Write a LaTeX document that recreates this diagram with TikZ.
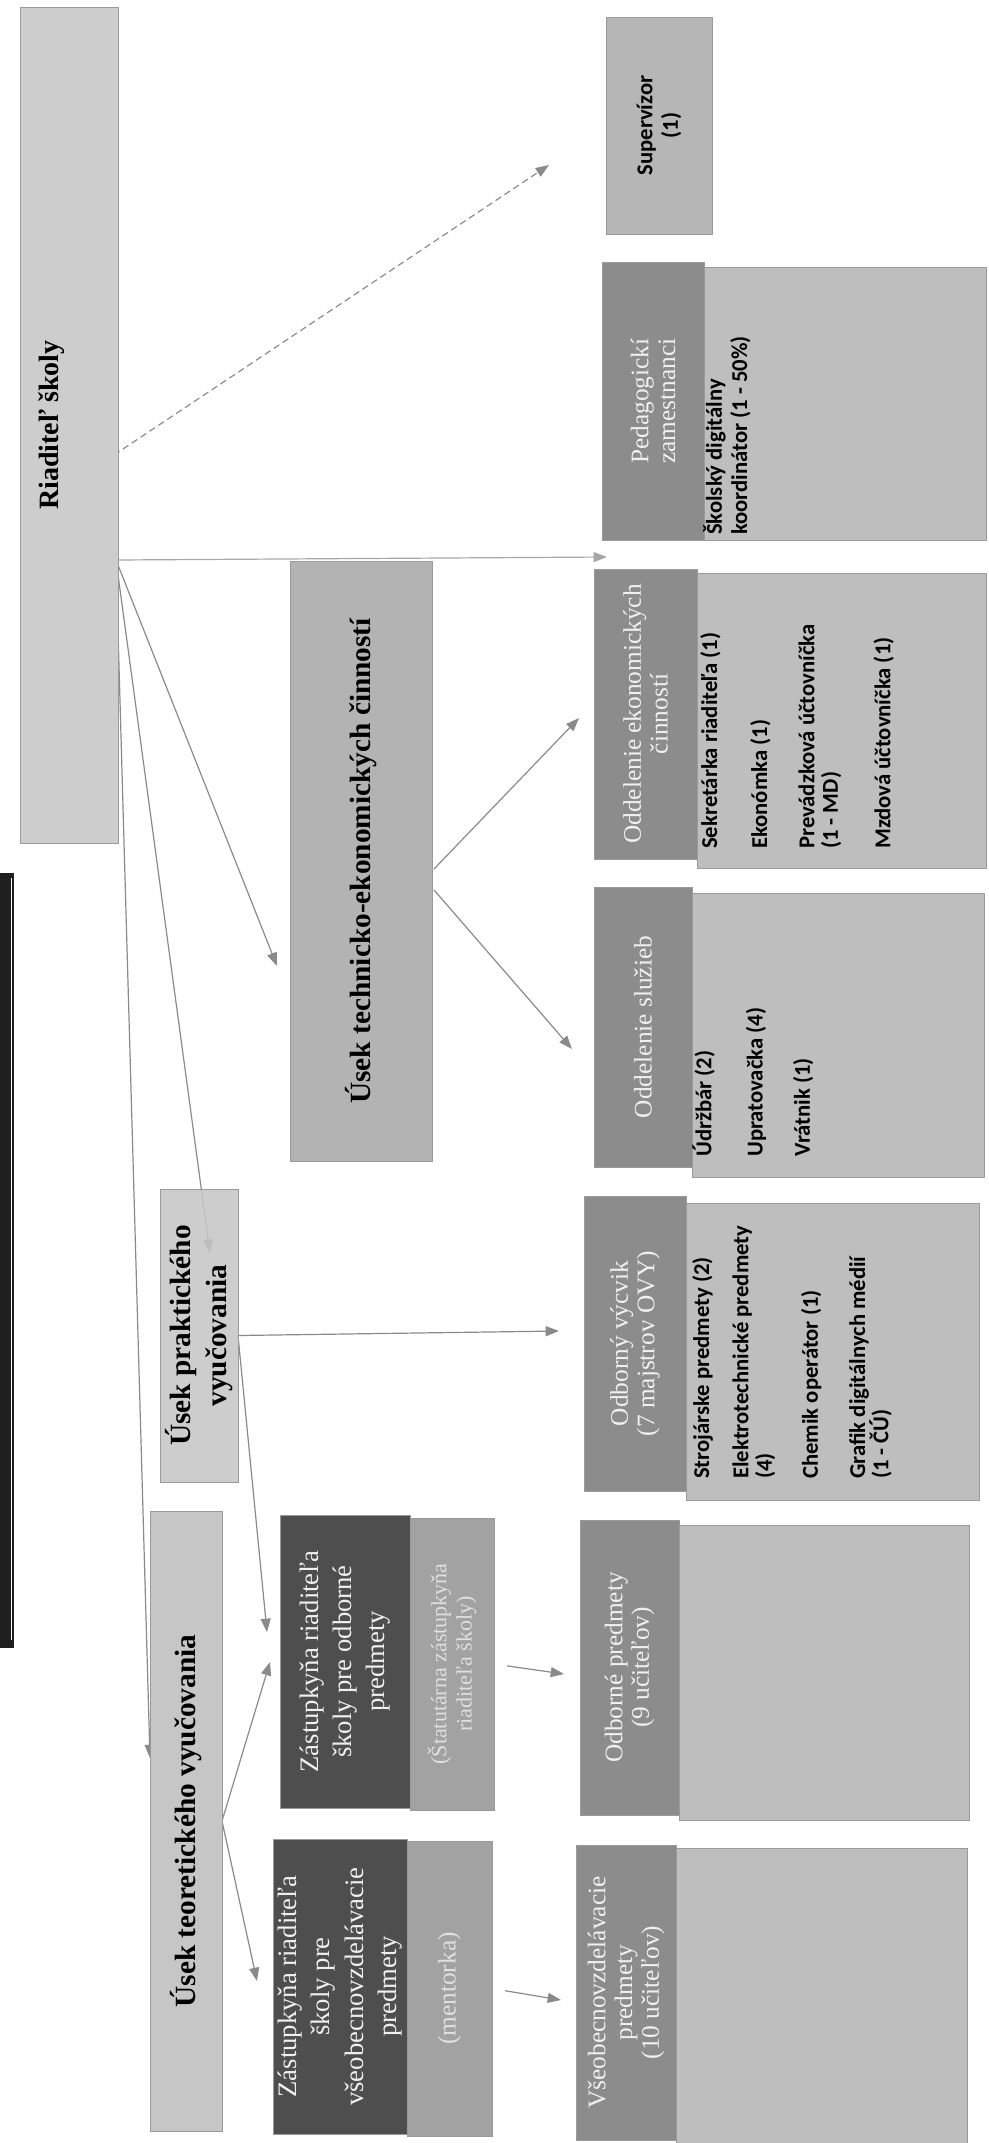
\documentclass[tikz,border=0pt]{standalone}
\usepackage{fontspec}
\setmainfont{Liberation Serif}
\newfontfamily\itemfont{Carlito}
\usetikzlibrary{arrows.meta,backgrounds}

\definecolor{riadFill}{HTML}{CDCDCD}
\definecolor{supFill}{HTML}{B6B6B6}
\definecolor{hdrFill}{HTML}{8C8C8C}
\definecolor{bodyFill}{HTML}{BEBEBE}
\definecolor{usekFill}{HTML}{B3B3B3}
\definecolor{usekLight}{HTML}{C6C6C6}
\definecolor{zastDark}{HTML}{4E4E4E}
\definecolor{zastLight}{HTML}{A2A2A2}
\definecolor{edgeGray}{HTML}{9A9A9A}
\definecolor{lineGray}{HTML}{8A8A8A}

\tikzset{
  box/.style={draw=edgeGray, line width=0.6pt, anchor=north west, inner sep=0pt, outer sep=0pt},
  sz/.style 2 args={minimum width=#1*0.75pt, minimum height=#2*0.75pt},
  title/.style={rotate=90, align=center, font=\bfseries\fontsize{22}{27}\selectfont},
  hdrtext/.style={rotate=90, align=center, text=white!94!black, font=\fontsize{19}{20}\selectfont},
  zasttext/.style={rotate=90, align=center, text=white!94!black, font=\fontsize{20}{25}\selectfont},
  items/.style={rotate=90, align=left, anchor=north west, inner sep=0pt, font=\itemfont\bfseries\fontsize{17}{17.5}\selectfont},
  conn/.style={draw=lineGray, line width=0.9pt, -{Triangle[length=10pt,width=7.5pt]}},
}

\begin{document}
\begin{tikzpicture}[x=0.75pt,y=0.75pt,yscale=-1,xscale=1]
\useasboundingbox (0,0) rectangle (989,2143);

%Shape: scan edge
\fill[black!88] (0,873) rectangle (14,1648);
\draw[white, line width=0.6pt] (11.5,878) -- (11.5,1640);

%Riaditel skoly
\node[box, fill=riadFill, sz={98}{836}] (riad) at (20,7) {};
\node[title, font=\bfseries\fontsize{21}{25}\selectfont] (riadText) at (52,425) {Riaditeľ školy};

%Supervizor
\node[box, fill=supFill, sz={106}{217}] (sup) at (606,17) {};
\node[rotate=90, align=center, font=\itemfont\bfseries\fontsize{17}{19}\selectfont] (supText) at (sup.center) {Supervízor\\(1)};

%Pedagogicki zamestnanci
\node[box, fill=hdrFill, sz={102}{278}] (pedH) at (602,262) {};
\node[box, fill=bodyFill, sz={282}{273}] (pedB) at (704,267) {};
\node[hdrtext] (pedText) at (pedH.center) {Pedagogickí\\zamestnanci};
\node[items] (pedList) at (703,535) {Školský digitálny\\[1.5pt]koordinátor (1 - 50\%)};

%Oddelenie ekonomickych cinnosti
\node[box, fill=hdrFill, sz={103}{290}] (ekoH) at (594,569) {};
\node[box, fill=bodyFill, sz={289}{295}] (ekoB) at (697,573) {};
\node[hdrtext] (ekoText) at (ekoH.center) {Oddelenie ekonomických\\činností};
\node[items] (ekoList) at (700,849) {Sekretárka riaditeľa (1)\\[20pt]Ekonómka (1)\\[18pt]Prevádzková účtovníčka\\(1 - MD)\\[22pt]Mzdová účtovníčka (1)};

%Oddelenie sluzieb
\node[box, fill=hdrFill, sz={98}{280}] (sluH) at (594,887) {};
\node[box, fill=bodyFill, sz={292}{284}] (sluB) at (692,893) {};
\node[hdrtext] (sluText) at (sluH.center) {Oddelenie služieb};
\node[items] (sluList) at (692,1157) {Údržbár (2)\\[21pt]Upratovačka (4)\\[18pt]Vrátnik (1)};

%Odborny vycvik
\node[box, fill=hdrFill, sz={102}{295}] (ovyH) at (584,1196) {};
\node[box, fill=bodyFill, sz={293}{297}] (ovyB) at (686,1203) {};
\node[hdrtext] (ovyText) at (ovyH.center) {Odborný výcvik\\(7 majstrov OVY)};
\node[items] (ovyList) at (692,1479) {Strojárske predmety (2)\\[12pt]Elektrotechnické predmety\\(4)\\[17pt]Chemik operátor (1)\\[18pt]Grafik digitálnych médií\\(1 - ČÚ)};

%Odborne predmety
\node[box, fill=hdrFill, sz={99}{295}] (odbH) at (580,1520) {};
\node[box, fill=bodyFill, sz={290}{295}] (odbB) at (679,1525) {};
\node[hdrtext] (odbText) at (odbH.center) {Odborné predmety\\(9 učiteľov)};

%Vseobecnovzdelavacie predmety
\node[box, fill=hdrFill, sz={100}{295}] (vseH) at (576,1845) {};
\node[box, fill=bodyFill, sz={291}{297}] (vseB) at (676,1848) {};
\node[hdrtext] (vseText) at (vseH.center) {Všeobecnovzdelávacie\\predmety\\(10 učiteľov)};

%Useky
\node[box, fill=usekFill, sz={142}{600}] (tech) at (290,561) {};
\node[title] (techText) at (tech.center) {Úsek technicko-ekonomických činností};
\node[box, fill=usekLight, fill opacity=0.88, sz={78}{293}] (prak) at (160,1189) {};
\node[title] (prakText) at (prak.center) {Úsek praktického\\vyučovania};
\node[box, fill=usekLight, sz={72}{620}] (teo) at (150,1511) {};
\node[title] (teoText) at (teo.center) {Úsek teoretického vyučovania};

%Zastupkyne
\node[box, fill=zastDark, sz={130}{293}] (zodbD) at (280,1515) {};
\node[box, fill=zastLight, sz={84}{292}] (zodbL) at (410,1518) {};
\node[zasttext] (zodbText) at (zodbD.center) {Zástupkyňa riaditeľa\\školy pre odborné\\predmety};
\node[hdrtext, text=white!88!black, font=\fontsize{16.5}{19}\selectfont] (zodbNote) at (zodbL.center) {(Štatutárna zástupkyňa\\riaditeľa školy)};
\node[box, fill=zastDark, sz={134}{295}] (zvseD) at (273,1839) {};
\node[box, fill=zastLight, sz={85}{295}] (zvseL) at (407,1841) {};
\node[zasttext] (zvseText) at (zvseD.center) {Zástupkyňa riaditeľa\\školy pre\\všeobecnovzdelávacie\\predmety};
\node[hdrtext, text=white!88!black] (zvseNote) at (zvseL.center) {(mentorka)};

%connector ends
\coordinate (riadDash) at (114,455);
\coordinate (riadOut) at (116,560);
\coordinate (supIn) at (549,165);
\coordinate (pedIn) at (607,557);
\coordinate (techIn) at (277,966);
\coordinate (prakIn) at (210,1253);
\coordinate (teoIn) at (150,1758);
\coordinate (techOutA) at (434,869);
\coordinate (techOutB) at (434,890);
\coordinate (ekoIn) at (579,718);
\coordinate (sluIn) at (572,1049);
\coordinate (ovyIn) at (559,1331);
\coordinate (zodbIn) at (267,1632);
\coordinate (zodbIn2) at (270,1662);
\coordinate (zvseIn) at (257,1981);
\coordinate (odbIn) at (564,1674);
\coordinate (vseIn) at (561,2000);

\begin{scope}[on background layer]
\draw[conn, dash pattern=on 5pt off 3pt] (riadDash) -- (supIn);
\draw[conn, draw=lineGray!75] (riadOut) -- (pedIn);
\draw[conn] (riadOut) -- (techIn);
\draw[conn] (riadOut) -- (prakIn);
\draw[conn] (riadOut) -- (teoIn);
\draw[conn] (techOutA) -- (ekoIn);
\draw[conn] (techOutB) -- (sluIn);
\draw[conn] (prak.east) -- (ovyIn);
\draw[conn] (prak.east) -- (zodbIn);
\draw[conn] (teo.east) -- (zodbIn2);
\draw[conn] (teo.east) -- (zvseIn);
\draw[conn, shorten <=10pt] (zodbL.east) -- (odbIn);
\draw[conn, shorten <=10pt] (zvseL.east) -- (vseIn);
\end{scope}

\end{tikzpicture}
\end{document}
